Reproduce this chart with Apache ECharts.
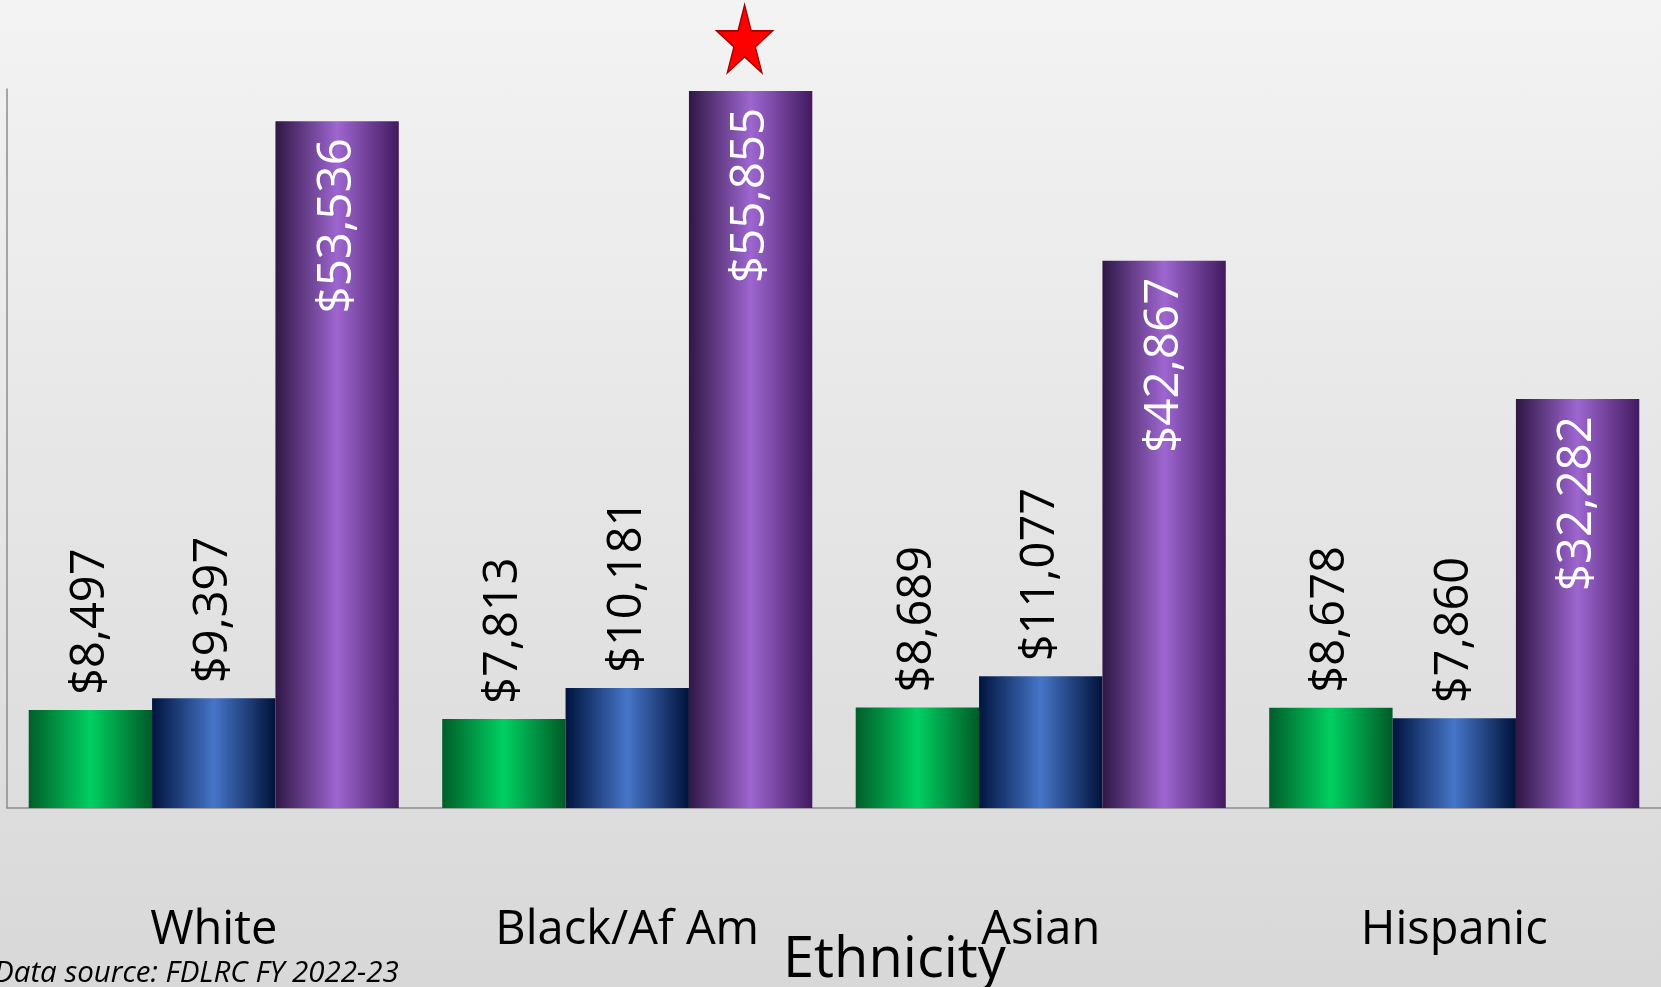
<!DOCTYPE html>
<html>
<head>
<meta charset="utf-8">
<script src="https://cdn.jsdelivr.net/npm/echarts@6/dist/echarts.min.js"></script>
<style>
  html, body { margin: 0; padding: 0; }
  body { background: linear-gradient(to bottom, #f3f3f3 0%, #d8d8d8 100%); }
  #main { width: 1661px; height: 987px; }
</style>
</head>
<body>
<div id="main"></div>
<script>
// data
var categories = ['White', 'Black/Af Am', 'Asian', 'Hispanic']
var greenValues = [8497, 7813, 8689, 8678]
var blueValues = [9397, 10181, 11077, 7860]
var purpleValues = [53536, 55855, 42867, 32282]

var font = 'Open Sans'

function hGrad(edgeL, mid, edgeR) {
  return new echarts.graphic.LinearGradient(0, 0, 1, 0, [
    { offset: 0, color: edgeL },
    { offset: 0.5, color: mid },
    { offset: 1, color: edgeR }
  ])
}

function money(p) {
  return '$' + p.value.toLocaleString('en-US')
}

var outsideLabel = {
  show: true,
  position: 'top',
  rotate: 90,
  align: 'left',
  verticalAlign: 'middle',
  distance: 15,
  color: '#000',
  fontFamily: font,
  fontSize: 47,
  formatter: money
}

var chart = echarts.init(document.getElementById('main'), null, { renderer: 'canvas' })

var option = {
  backgroundColor: 'transparent',
  animation: false,
  title: [{
    text: 'Ethnicity',
    left: 778,
    top: 928,
    textStyle: { fontFamily: font, fontSize: 56, fontWeight: 'normal', color: '#000' }
  }, {
    text: 'Data source: FDLRC FY 2022-23',
    left: -6,
    top: 959,
    padding: 0,
    textStyle: { fontFamily: font, fontSize: 29.5, fontStyle: 'italic', fontWeight: 'normal', color: '#000' }
  }],
  grid: {
    left: 7,
    right: 0,
    top: 89,
    bottom: 179
  },
  xAxis: {
    type: 'category',
    data: categories,
    axisLine: { lineStyle: { color: '#8c8c8c', width: 1.5 } },
    axisTick: { show: false },
    axisLabel: {
      margin: 99,
      color: '#000',
      fontFamily: font,
      fontSize: 47
    }
  },
  yAxis: {
    type: 'value',
    min: 1000,
    max: 56000,
    axisLine: { show: true, lineStyle: { color: '#8c8c8c', width: 1.5 } },
    axisTick: { show: false },
    axisLabel: { show: false },
    splitLine: { show: false }
  },
  series: [{
    type: 'bar',
    data: greenValues,
    barGap: '0%',
    barCategoryGap: '10.5%',
    itemStyle: { color: hGrad('#005e29', '#00d062', '#005a27') },
    label: outsideLabel
  }, {
    type: 'bar',
    data: blueValues,
    itemStyle: { color: hGrad('#00143e', '#4675c8', '#00123a') },
    label: outsideLabel
  }, {
    type: 'bar',
    data: purpleValues,
    itemStyle: { color: hGrad('#2f1745', '#9e66d0', '#421a60') },
    label: {
      show: true,
      position: 'insideTop',
      rotate: 90,
      align: 'right',
      verticalAlign: 'middle',
      distance: 17,
      color: '#fff',
      fontFamily: font,
      fontSize: 47.5,
      formatter: money
    },
    markPoint: {
      silent: true,
      symbol: 'path://M50,0 L61.2,34.5 L97.6,34.5 L68.2,55.9 L79.4,90.5 L50,69.1 L20.6,90.5 L31.8,55.9 L2.4,34.5 L38.8,34.5 Z',
      symbolSize: [56, 68],
      symbolKeepAspect: false,
      symbolOffset: [-6, -52],
      itemStyle: { color: '#ff0000', borderColor: '#a50000', borderWidth: 1.5 },
      label: { show: false },
      data: [{ type: 'max' }]
    }
  }]
}

chart.setOption(option)
</script>
</body>
</html>
